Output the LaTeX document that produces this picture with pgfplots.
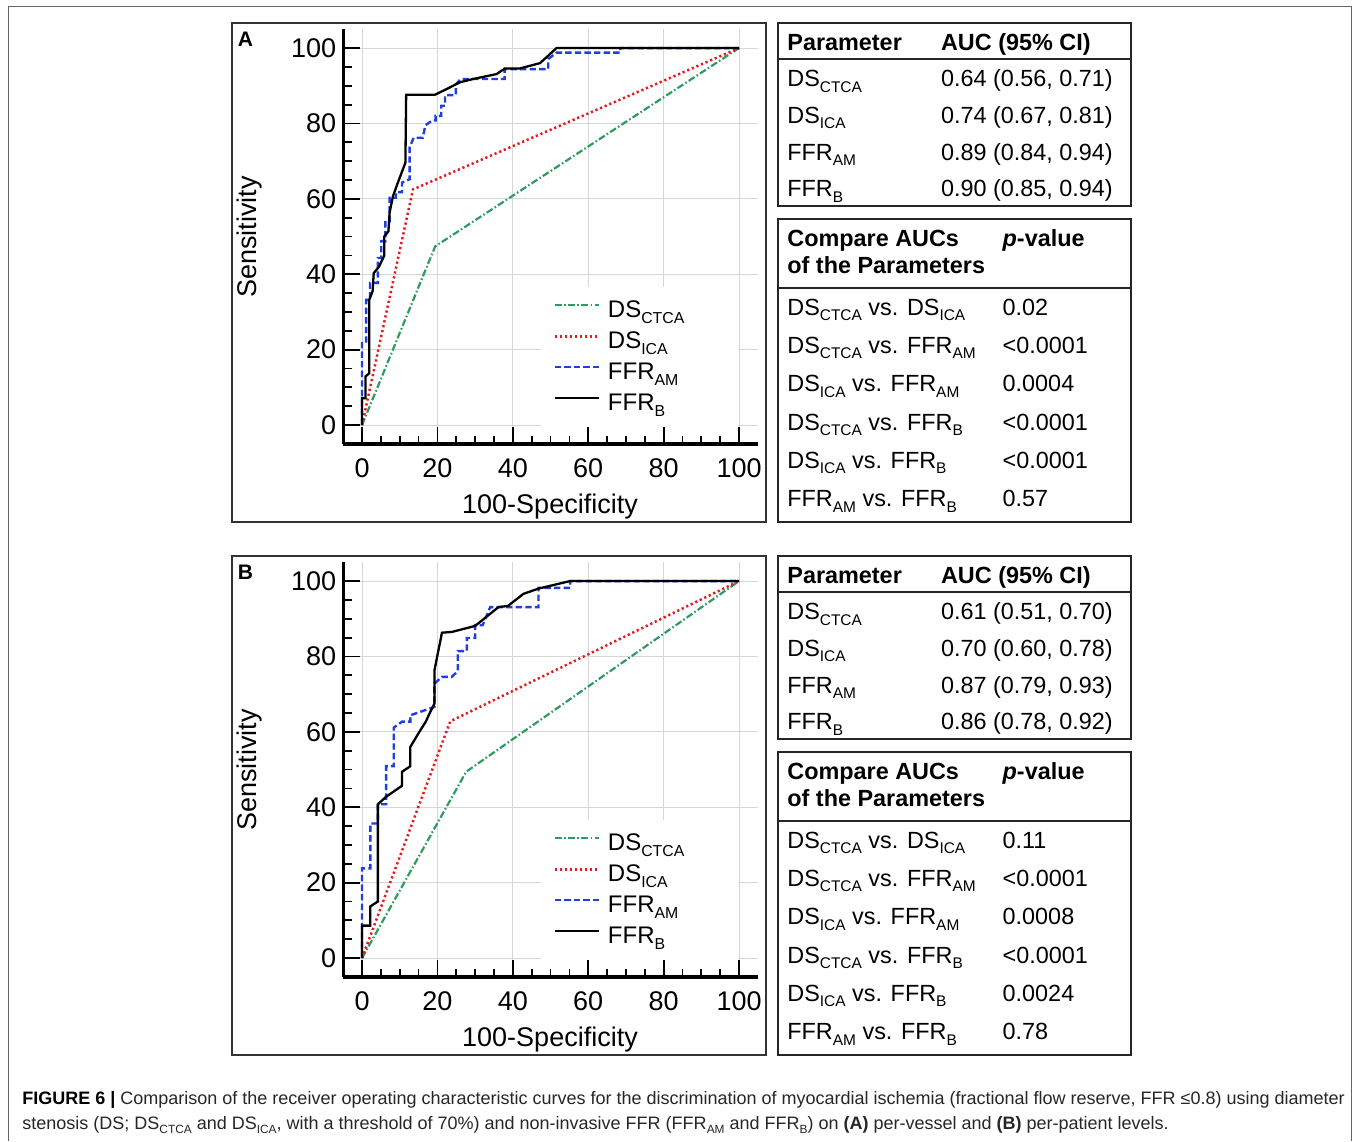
\documentclass[border=0pt]{standalone}
\usepackage{fontspec}
\setmainfont{Liberation Sans}
\usepackage{graphicx}
\usepackage{pgfplots}
\pgfplotsset{compat=1.18}
\definecolor{ctca}{HTML}{2E9B5F}
\definecolor{ica}{HTML}{E41A1C}
\definecolor{ffram}{HTML}{1F3FE0}
\definecolor{gridc}{HTML}{D6D6D6}
\newcommand{\sbs}[1]{\raisebox{-0.23em}{\scalebox{0.66}{#1}}}
\newcommand{\tf}{\fontsize{11.7}{14}\selectfont}

\pgfplotsset{
  rocax/.style={
    scale only axis, width=207.35pt, height=207.35pt,
    anchor=south west,
    xmin=-5, xmax=105, ymin=-5, ymax=105,
    axis lines=left,
    axis line style={line width=1.6pt, -},
    xtick={0,20,...,100}, ytick={0,20,...,100},
    minor x tick num=3, minor y tick num=3,
    tick align=inside,
    major tick length=8.5pt, minor tick length=4.2pt,
    every tick/.style={black, line width=0.9pt},
    grid=major, grid style={gridc, line width=0.5pt},
    tick label style={font=\fontsize{13.5}{16}\selectfont},
    /pgf/number format/assume math mode=true,
    xticklabel style={yshift=-4pt},
    legend cell align=left,
    legend style={draw=none, fill=none, inner sep=0pt,
      at={(0.506,0.3534)}, anchor=north west,
      font=\fontsize{12}{14}\selectfont, row sep=0pt,
      nodes={inner sep=0pt, text height=10pt, text depth=5.5pt}},
    legend image code/.code={\draw[##1] (0pt,4pt) -- (22pt,4pt); \path (26pt,0pt);},
  },
  sctca/.style={color=ctca, line width=1.1pt, dash pattern=on 3.5pt off 1.2pt on 0.8pt off 1.2pt},
  sica/.style={color=ica, line width=1.25pt, dash pattern=on 1.1pt off 1.4pt},
  sfram/.style={color=ffram, line width=1.2pt, dash pattern=on 3.2pt off 1.6pt},
  sfrb/.style={color=black, line width=1.15pt},
}

\newcommand{\aucTable}[4]{%
  \draw[line width=0.75pt, black!85] (778,23) rectangle (1131,206);
  \draw[line width=0.75pt, black!85] (778,59) -- (1131,59);
  \node[anchor=base west, font=\tf\bfseries] at (787,50.7) {Parameter};
  \node[anchor=base west, font=\tf\bfseries] at (940.7,50.7) {AUC (95\% CI)};
  \node[anchor=base west, font=\tf] at (787,86.7) {DS\sbs{CTCA}};
  \node[anchor=base west, font=\tf] at (787,123.3) {DS\sbs{ICA}};
  \node[anchor=base west, font=\tf] at (787,160) {FFR\sbs{AM}};
  \node[anchor=base west, font=\tf] at (787,196.7) {FFR\sbs{B}};
  \node[anchor=base west, font=\tf] at (940.7,86.7) {#1};
  \node[anchor=base west, font=\tf] at (940.7,123.3) {#2};
  \node[anchor=base west, font=\tf] at (940.7,160) {#3};
  \node[anchor=base west, font=\tf] at (940.7,196.7) {#4};
}
\newcommand{\pTable}[6]{%
  \draw[line width=0.75pt, black!85] (778,219) rectangle (1131,522);
  \draw[line width=0.75pt, black!85] (778,288) -- (1131,288);
  \node[anchor=base west, font=\tf\bfseries] at (787,246.7) {Compare AUCs};
  \node[anchor=base west, font=\tf\bfseries] at (787,273.3) {of the Parameters};
  \node[anchor=base west, font=\tf\bfseries] at (1002.3,246.7) {\textit{p}-value};
  \node[anchor=base west, font=\tf] at (787,315) {DS\sbs{CTCA} vs. DS\sbs{ICA}};
  \node[anchor=base west, font=\tf] at (787,353.3) {DS\sbs{CTCA} vs. FFR\sbs{AM}};
  \node[anchor=base west, font=\tf] at (787,391.7) {DS\sbs{ICA} vs. FFR\sbs{AM}};
  \node[anchor=base west, font=\tf] at (787,430) {DS\sbs{CTCA} vs. FFR\sbs{B}};
  \node[anchor=base west, font=\tf] at (787,468.3) {DS\sbs{ICA} vs. FFR\sbs{B}};
  \node[anchor=base west, font=\tf] at (787,506.7) {FFR\sbs{AM} vs. FFR\sbs{B}};
  \node[anchor=base west, font=\tf] at (1002.3,315) {#1};
  \node[anchor=base west, font=\tf] at (1002.3,353.3) {#2};
  \node[anchor=base west, font=\tf] at (1002.3,391.7) {#3};
  \node[anchor=base west, font=\tf] at (1002.3,430) {#4};
  \node[anchor=base west, font=\tf] at (1002.3,468.3) {#5};
  \node[anchor=base west, font=\tf] at (1002.3,506.7) {#6};
}
\newcommand{\panelFrame}[1]{%
  \draw[line width=0.75pt, black!80] (232,23) rectangle (766,522);
  \node[anchor=base west, font=\fontsize{10.5}{12}\selectfont\bfseries] at (237.5,46.7) {#1};
  \node[anchor=base, font=\fontsize{13.5}{16}\selectfont] at (550,513) {100-Specificity};
  \node[anchor=base, rotate=90, font=\fontsize{13.5}{16}\selectfont] at (256,237) {Sensitivity};
}

\begin{document}
\begin{tikzpicture}
\begin{scope}[x=0.5pt, y=-0.5pt, every node/.style={inner sep=0pt}]
  \path (0,0) rectangle (1357,1141);
  \draw[line width=0.5pt, black!60] (8,1141) -- (8,6) -- (1351.5,6) -- (1351.5,1141);
  \panelFrame{A}
  \aucTable{0.64 (0.56, 0.71)}{0.74 (0.67, 0.81)}{0.89 (0.84, 0.94)}{0.90 (0.85, 0.94)}
  \pTable{0.02}{<0.0001}{0.0004}{<0.0001}{<0.0001}{0.57}
  \begin{scope}[yshift=-266.5pt]
    \panelFrame{B}
    \aucTable{0.61 (0.51, 0.70)}{0.70 (0.60, 0.78)}{0.87 (0.79, 0.93)}{0.86 (0.78, 0.92)}
    \pTable{0.11}{<0.0001}{0.0008}{<0.0001}{0.0024}{0.78}
  \end{scope}
  \node[anchor=base west, font=\fontsize{9}{11}\selectfont, text=black!85] at (22,1104)
    {\textcolor{black}{\textbf{FIGURE 6 |}} Comparison of the receiver operating characteristic curves for the discrimination of myocardial ischemia (fractional flow reserve, FFR ≤0.8) using diameter};
  \node[anchor=base west, font=\fontsize{9}{11}\selectfont, text=black!85] at (22,1129)
    {stenosis (DS; DS\sbs{CTCA} and DS\sbs{ICA}, with a threshold of 70\%) and non-invasive FFR (FFR\sbs{AM} and FFR\sbs{B}) on \textbf{(A)} per-vessel and \textbf{(B)} per-patient levels.};
\end{scope}

% panel A: per-vessel
\begin{axis}[rocax, at={(171.6pt,-221.95pt)}]
  \fill[white] (axis cs:47.5,-0.4) rectangle (axis cs:99.85,36.6);
  \addplot[sctca] coordinates {(0,0) (19.4,47.4) (100,100)};
  \addlegendentry{DS\sbs{CTCA}}
  \addplot[sica] coordinates {(0,0) (13.5,62.5) (100,100)};
  \addlegendentry{DS\sbs{ICA}}
  \addplot[sfram] coordinates {
    (0,0) (0,22.2) (1.1,22.2) (1.1,33.2) (2.1,33.2) (2.1,37.7) (4.2,37.7)
    (4.2,44.3) (5.1,44.3) (5.1,48.8) (6.2,48.8) (6.2,54.1) (7.3,54.1)
    (7.3,60.3) (9.0,60.3) (9.0,61.8) (10.6,61.8) (10.6,64.3) (12.6,65.2)
    (12.6,73.6) (13.7,76.2) (16.1,76.2) (16.8,79.5) (18.6,80.8) (19.5,80.8)
    (19.5,82) (21,82) (21,84.7) (22,84.7) (22,87.5) (24.9,87.5) (24.9,90.4)
    (26.2,91.8) (37.8,91.8) (37.8,94.4) (49.4,94.4) (49.4,97.1) (51.6,98.8)
    (68.5,98.8) (68.5,100) (100,100)};
  \addlegendentry{FFR\sbs{AM}}
  \addplot[sfrb] coordinates {
    (0,0) (0,7.1) (0.9,7.1) (0.9,12.9) (1.9,13.7) (1.9,33.2) (2.8,35.5)
    (3.1,40.3) (4.5,42) (5.9,45) (5.9,50) (7.0,51.4) (7.3,56.3) (8.2,60.7)
    (9.5,64.3) (11.5,69.6) (11.7,87.6) (19.3,87.6) (22.4,89.1) (25.9,90.9)
    (29.5,91.8) (35.7,93.1) (37.9,94.6) (41.9,94.6) (47.2,96) (51.6,100)
    (100,100)};
  \addlegendentry{FFR\sbs{B}}
\end{axis}

% panel B: per-patient
\begin{axis}[rocax, at={(171.6pt,-488.45pt)}]
  \fill[white] (axis cs:47.5,-0.4) rectangle (axis cs:99.85,36.6);
  \addplot[sctca] coordinates {(0,0) (27.6,49.4) (100,100)};
  \addlegendentry{DS\sbs{CTCA}}
  \addplot[sica] coordinates {(0,0) (23.4,62.8) (100,100)};
  \addlegendentry{DS\sbs{ICA}}
  \addplot[sfram] coordinates {
    (0,0) (0,23.8) (2.2,23.8) (2.2,35.7) (4.2,35.7) (4.2,40.8) (6.4,40.8)
    (6.4,50.9) (8.4,50.9) (8.4,61.1) (10.6,62.7) (12.8,62.7) (12.8,64.4)
    (19.2,66.6) (19.2,72.8) (21.2,74.6) (23.8,74.6) (25.4,76.1) (25.4,81.4)
    (27.8,81.4) (27.8,84.9) (30,84.9) (30,88.3) (32,88.3) (34,93.1)
    (46.8,93.1) (46.8,98.2) (55.2,98.2) (55.2,100) (100,100)};
  \addlegendentry{FFR\sbs{AM}}
  \addplot[sfrb] coordinates {
    (0,0) (0,8.6) (2.2,8.6) (2.2,13.7) (4.2,15) (4.2,40.8) (6.4,42.8)
    (10.6,45.7) (10.6,49.4) (12.8,50.9) (12.8,56) (14.9,59.5) (16.9,62.7)
    (18.1,65.3) (19.2,67.5) (19.2,76.3) (21.2,86.3) (23.8,86.5) (30,88.1)
    (36.2,93.1) (38.7,93.4) (42.8,96.6) (46.8,98) (55.2,100) (100,100)};
  \addlegendentry{FFR\sbs{B}}
\end{axis}
\end{tikzpicture}
\end{document}
